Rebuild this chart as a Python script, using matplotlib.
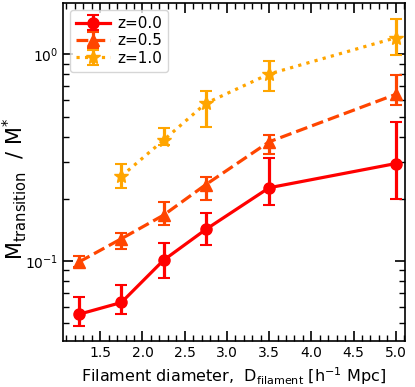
import matplotlib
matplotlib.use("Agg")
import matplotlib.pyplot as plt
from matplotlib.ticker import MultipleLocator

# Filament diameters [h^-1 Mpc]
d_all = [1.25, 1.75, 2.25, 2.75, 3.5, 5.0]
d_z10 = [1.75, 2.25, 2.75, 3.5, 5.0]

# z = 0.0
m_z00 = [0.0552, 0.0629, 0.1008, 0.142, 0.226, 0.296]
lo_z00 = [0.0483, 0.0552, 0.0822, 0.119, 0.186, 0.199]
hi_z00 = [0.067, 0.0768, 0.1227, 0.171, 0.315, 0.472]

# z = 0.5
m_z05 = [0.0989, 0.128, 0.1665, 0.234, 0.377, 0.640]
lo_z05 = [0.0935, 0.1136, 0.149, 0.197, 0.331, 0.568]
hi_z05 = [0.1053, 0.137, 0.193, 0.255, 0.406, 0.794]

# z = 1.0
m_z10 = [0.257, 0.384, 0.579, 0.803, 1.203]
lo_z10 = [0.226, 0.363, 0.443, 0.664, 0.992]
hi_z10 = [0.296, 0.441, 0.664, 0.928, 1.483]

series = [
    ("z=0.0", d_all, m_z00, lo_z00, hi_z00, "red", "-", "o", 8),
    ("z=0.5", d_all, m_z05, lo_z05, hi_z05, "orangered", "--", "^", 8),
    ("z=1.0", d_z10, m_z10, lo_z10, hi_z10, "orange", ":", "*", 10),
]

fig, ax = plt.subplots(figsize=(4.15, 3.87), dpi=100)

for lab, x, y, lo, hi, c, ls, mk, ms in series:
    yerr = [[v - l for v, l in zip(y, lo)], [h - v for v, h in zip(y, hi)]]
    ax.errorbar(x, y, yerr=yerr, color=c, ls=ls, marker=mk, ms=ms, lw=2.3,
                elinewidth=2.3, capsize=4, capthick=1.5, label=lab)

ax.set_yscale("log")
ax.set_xlim(1.06, 5.11)
ax.set_ylim(0.0408, 1.77)
ax.xaxis.set_major_locator(MultipleLocator(0.5))
ax.xaxis.set_minor_locator(MultipleLocator(0.1))
ax.tick_params(which="both", direction="in", top=True, right=True)
ax.tick_params(which="major", length=7, width=1.2)
ax.tick_params(which="minor", length=4, width=1)
for s in ax.spines.values():
    s.set_linewidth(1.2)

ax.set_xlabel(r"Filament diameter,  D$_{\rm filament}$ [h$^{-1}$ Mpc]", fontsize=11.5)
ax.set_ylabel(r"M$_{\rm transition}$  / M$^{*}$", fontsize=15)
ax.yaxis.set_label_coords(-0.1, 0.45)
ax.legend(loc="upper left", fontsize=11, labelspacing=0.15, handlelength=2.2,
          handletextpad=0.5, borderaxespad=0.45)

fig.subplots_adjust(left=0.152, right=0.976, top=0.992, bottom=0.118)
plt.savefig("out.png")
